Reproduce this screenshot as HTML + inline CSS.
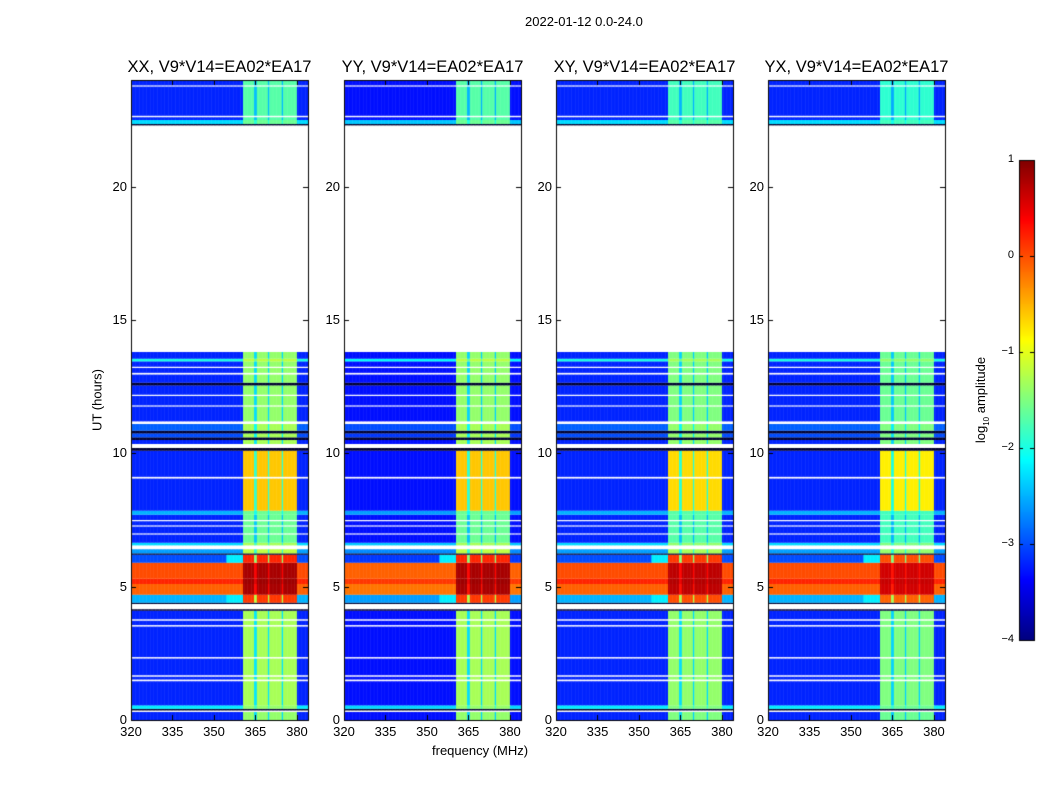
<!DOCTYPE html>
<html><head><meta charset="utf-8"><style>
body{margin:0;width:1050px;height:800px;background:#fff;font-family:"Liberation Sans",sans-serif;overflow:hidden}
#root{position:relative;width:1050px;height:800px}
.t{position:absolute;white-space:nowrap;color:#000}
canvas{position:absolute}
</style></head><body><div id="root">
<canvas id="cv" width="1050" height="800" style="left:0;top:0"></canvas>
<div class="t" style="left:525px;top:14px;font-size:13px">2022-01-12 0.0-24.0</div>
<div class="t" style="left:432px;top:743px;font-size:13px">frequency (MHz)</div>
<div class="t" style="left:97px;top:400px;font-size:13px;transform:translate(-50%,-50%) rotate(-90deg)">UT (hours)</div>
<div class="t" style="left:982px;top:400px;font-size:13px;transform:translate(-50%,-50%) rotate(-90deg)">log<sub style="font-size:8px">10</sub> amplitude</div>
</div>
<script>
const panelTitles=["XX, V9*V14=EA02*EA17","YY, V9*V14=EA02*EA17","XY, V9*V14=EA02*EA17","YX, V9*V14=EA02*EA17"];
const panelBandOffset=[0,0,-0.1,-0.2];
const panelBgOffset=[0,-0.1,0,0];
const xTicks=[320,335,350,365,380];
const yTicks=[0,5,10,15,20];
const cbTicks=[1,0,-1,-2,-3,-4];
const bandWindows=[[360.5,364.6],[365.4,369.3],[370.1,374.3],[375.1,380]];
const segStart=[0,0.3,0.36,0.42,0.55,1.45,1.52,1.62,1.68,2.3,2.36,3.5,3.56,3.72,3.78,4.1,4.15,4.35,4.4,4.7,5.1,5.3,5.9,6.2,6.25,6.4,6.55,6.65,6.95,7.0,7.25,7.3,7.45,7.5,7.7,7.85,9.05,9.12,10.1,10.2,10.35,10.5,10.6,10.75,10.85,11.1,11.2,11.75,11.8,12.15,12.2,12.55,12.65,12.95,13.02,13.2,13.25,13.45,13.55,13.8,22.3,22.35,22.5,22.6,22.66,23.75,23.8];
const segEnd=[0.3,0.36,0.42,0.55,1.45,1.52,1.62,1.68,2.3,2.36,3.5,3.56,3.72,3.78,4.1,4.15,4.35,4.4,4.7,5.1,5.3,5.9,6.2,6.25,6.4,6.55,6.65,6.95,7.0,7.25,7.3,7.45,7.5,7.7,7.85,9.05,9.12,10.1,10.2,10.35,10.5,10.6,10.75,10.85,11.1,11.2,11.75,11.8,12.15,12.2,12.55,12.65,12.95,13.02,13.2,13.25,13.45,13.55,13.8,22.3,22.35,22.5,22.6,22.66,23.75,23.8,24];
const segBg=[-3.2,null,-5,-2.2,-3.2,null,-3.2,null,-3.2,null,-3.2,null,-3.2,null,-3.2,-5,null,-5,-2.5,-0.1,0.2,0.0,-3.0,-5,-2.6,null,-2.3,-3.2,null,-3.2,null,-3.2,null,-3.2,-2.5,-3.2,null,-3.2,-5,null,-3.2,-5,-3.0,-5,-2.9,null,-3.2,null,-3.2,null,-3.2,-5,-3.2,null,-3.2,null,-3.2,-2.0,-3.2,null,-5,-2.3,-3.2,null,-3.2,null,-3.2];
const segBand=[-1.4,null,-5,-1.4,-1.3,null,-1.3,null,-1.3,null,-1.3,null,-1.3,null,-1.3,-5,null,-5,0.1,0.8,0.85,0.8,0.2,-5,-1.2,null,-1.3,-1.6,null,-1.6,null,-1.6,null,-1.6,-1.6,-0.6,null,-0.6,-5,null,-1.3,-5,-1.3,-5,-1.3,null,-1.4,null,-1.4,null,-1.4,-5,-1.4,null,-1.4,null,-1.4,-1.2,-1.4,null,-5,-1.6,-1.7,null,-1.7,null,-1.7];
const panelLeft=[131,344,556,768];
const PW=177, PTOP=80, PBOT=720, FMIN=320, FMAX=384;
function jet(v){let t=(v+4)/5;t=Math.max(0,Math.min(1,t));
 const f=x=>Math.max(0,Math.min(1,x));
 const r=f(Math.min(4*t-1.5,-4*t+4.5)),g=f(Math.min(4*t-0.5,-4*t+3.5)),b=f(Math.min(4*t+0.5,-4*t+2.5));
 return `rgb(${Math.round(r*255)},${Math.round(g*255)},${Math.round(b*255)})`;}
const cv=document.getElementById('cv');const ctx=cv.getContext('2d');
const root=document.getElementById('root');
const yS=h=>PBOT-(h/24)*(PBOT-PTOP);
function inBand(f){for(const w of bandWindows){if(f>=w[0]&&f<w[1])return 1;}return (f>=bandWindows[0][0]&&f<bandWindows[3][1])?0.5:0;}
panelTitles.forEach((title,p)=>{
 const L=panelLeft[p];const xS=f=>L+(f-FMIN)*(PW/(FMAX-FMIN));
 for(let s=0;s<segStart.length;s++){
  const y0=yS(segEnd[s]),y1=yS(segStart[s]);
  if(segBg[s]===null) continue;
  for(let f=FMIN;f<FMAX;f+=0.5){
   const b=inBand(f+0.25);
   let v;
   if(segBg[s]<=-5) v=-5;
   else{const bg=segBg[s]+panelBgOffset[p],bd=segBand[s]+panelBandOffset[p];
     v=b===1?bd:(b===0.5?(bg+bd)/2:bg);
     if(b===0&&f>354&&f<360.5&&segBand[s]>-0.5) v=Math.max(v,-2.2);}
   ctx.fillStyle=v<=-5?'#000030':jet(v);
   ctx.fillRect(xS(f),y0,xS(f+0.5)-xS(f)+0.5,y1-y0);
  }
 }
 ctx.strokeStyle='#000';ctx.lineWidth=1;ctx.strokeRect(L+0.5,PTOP+0.5,PW,PBOT-PTOP);
 xTicks.forEach(t=>{const x=Math.round(xS(t))+0.5;ctx.beginPath();ctx.moveTo(x,PBOT);ctx.lineTo(x,PBOT-5);ctx.moveTo(x,PTOP);ctx.lineTo(x,PTOP+5);ctx.stroke();
  const d=document.createElement('div');d.className='t';
  
  
  d.style.cssText=`left:${xS(t)}px;top:724px;font-size:13px;transform:translateX(-50%)`;d.textContent=t;root.appendChild(d);});
 yTicks.forEach(t=>{const y=Math.round(yS(t))+0.5;ctx.beginPath();ctx.moveTo(L,y);ctx.lineTo(L+5,y);ctx.moveTo(L+PW,y);ctx.lineTo(L+PW-5,y);ctx.stroke();
  const d=document.createElement('div');d.className='t';
  
  
  d.style.cssText=`right:${1050-L+4}px;top:${yS(t)-8}px;font-size:13px`;d.textContent=t;root.appendChild(d);});
 const d=document.createElement('div');d.className='t';
 
 
 d.style.cssText=`left:${L+PW/2}px;top:58px;font-size:16.5px;transform:translateX(-50%)`;d.textContent=title;root.appendChild(d);
});
const CX=1019,CW=15,CT=160,CB=640;
const cbY=v=>CB-(v+4)/5*(CB-CT);
for(let y=CT;y<CB;y++){const v=-4+(CB-y-0.5)/(CB-CT)*5;ctx.fillStyle=jet(v);ctx.fillRect(CX,y,CW,1);}
ctx.strokeStyle='#000';ctx.strokeRect(CX+0.5,CT+0.5,CW,CB-CT);
cbTicks.forEach(t=>{const y=Math.round(cbY(t))+0.5;ctx.beginPath();ctx.moveTo(CX,y);ctx.lineTo(CX+4,y);ctx.moveTo(CX+CW,y);ctx.lineTo(CX+CW-4,y);ctx.stroke();
 const d=document.createElement('div');d.className='t';
 
 
 d.style.cssText=`right:${1050-1014}px;top:${cbY(t)-7}px;font-size:11px`;d.textContent=t<0?'\u2212'+(-t):t;root.appendChild(d);});
</script></body></html>
